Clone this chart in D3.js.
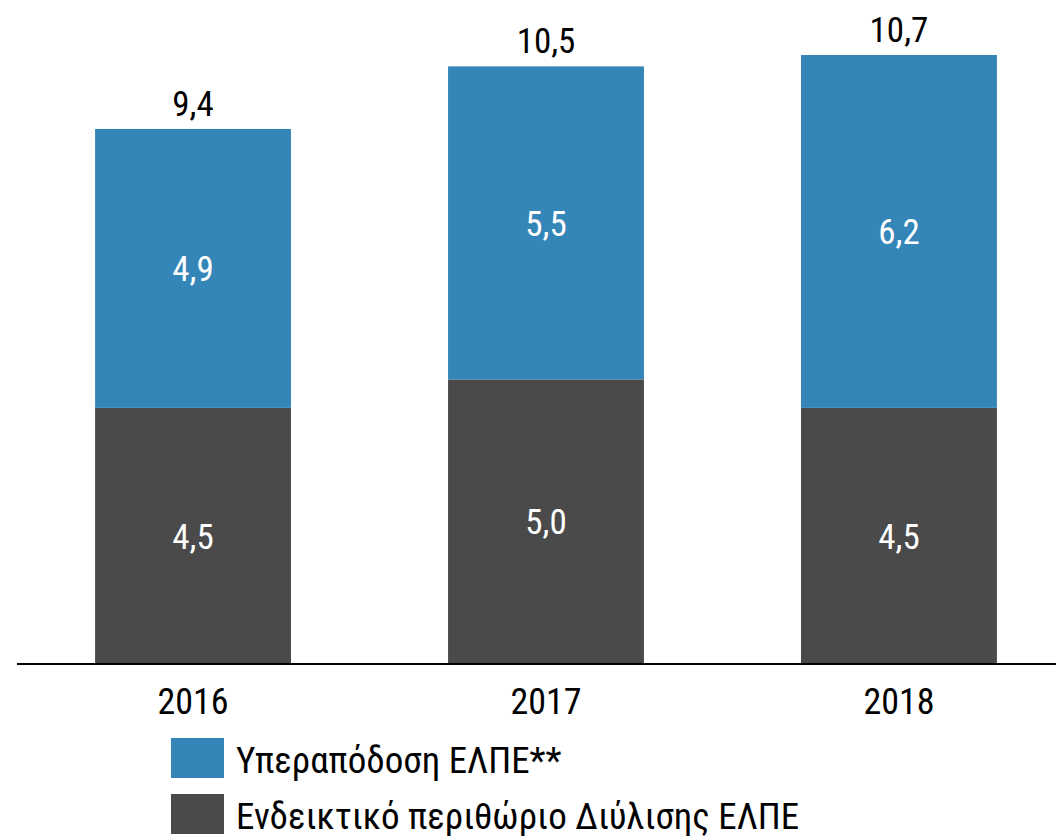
<!DOCTYPE html>
<html><head><meta charset="utf-8">
<script src="https://cdn.jsdelivr.net/npm/d3@7"></script>
<style>body{margin:0;background:#fff}svg{display:block}text{font-family:"Roboto Condensed","Liberation Sans Narrow",Roboto,sans-serif}</style>
</head><body><div id="c"></div>
<script>
const years = ["2016", "2017", "2018"];
const refining = [4.5, 5.0, 4.5];
const outperformance = [4.9, 5.5, 6.2];
const totals = [9.4, 10.5, 10.7];
const totalLabels = ["9,4", "10,5", "10,7"];
const legendLabels = ["Υπεραπόδοση ΕΛΠΕ**", "Ενδεικτικό περιθώριο Διύλισης ΕΛΠΕ"];
const colors = ["#3586b8", "#4a4a4a"];

const W = 1056, H = 836;
const svg = d3.select("#c").append("svg").attr("width", W).attr("height", H);
const x = d3.scaleBand().domain(years).range([-62, 1154]).padding(0.445);
const y = d3.scaleLinear().domain([0, 10.7]).range([664, 55]);
const fmt = v => d3.format(".1f")(v).replace(".", ",");

const rows = years.map((yr, i) => ({yr, a: refining[i], b: outperformance[i], t: totals[i], tl: totalLabels[i]}));

const g = svg.append("g");
g.selectAll(".bot").data(rows).join("rect")
  .attr("x", d => x(d.yr)).attr("width", x.bandwidth())
  .attr("y", d => y(d.a)).attr("height", d => y(0) - y(d.a)).attr("fill", colors[1]);
g.selectAll(".top").data(rows).join("rect")
  .attr("x", d => x(d.yr)).attr("width", x.bandwidth())
  .attr("y", d => y(d.a + d.b)).attr("height", d => y(d.a) - y(d.a + d.b)).attr("fill", colors[0]);

const fs = 35;
g.selectAll(".lb").data(rows).join("text")
  .attr("x", d => x(d.yr) + x.bandwidth()/2).attr("y", d => (y(0) + y(d.a))/2 + fs*0.36)
  .attr("text-anchor", "middle").attr("fill", "#fff").attr("font-size", fs).text(d => fmt(d.a));
g.selectAll(".lt").data(rows).join("text")
  .attr("x", d => x(d.yr) + x.bandwidth()/2).attr("y", d => (y(d.a) + y(d.a + d.b))/2 + fs*0.36)
  .attr("text-anchor", "middle").attr("fill", "#fff").attr("font-size", fs).text(d => fmt(d.b));
g.selectAll(".tt").data(rows).join("text")
  .attr("x", d => x(d.yr) + x.bandwidth()/2).attr("y", d => y(d.t) - 13)
  .attr("text-anchor", "middle").attr("fill", "#000").attr("font-size", fs).text(d => d.tl);

const ax = svg.append("g").attr("transform", "translate(0,664)")
  .call(d3.axisBottom(x).tickSize(0).tickPadding(0));
ax.select(".domain").remove();
ax.append("line").attr("x1", 17).attr("x2", 1056).attr("stroke", "#000").attr("stroke-width", 2);
ax.selectAll(".tick text").attr("font-size", 36).attr("fill", "#000").attr("dy", null).attr("y", 50)
  .style("font-family", '"Roboto Condensed","Liberation Sans Narrow",Roboto,sans-serif');

const lg = svg.append("g");
legendLabels.forEach((t, i) => {
  lg.append("rect").attr("x", 171).attr("y", 738 + i*56).attr("width", 53).attr("height", 40).attr("fill", colors[i]);
  lg.append("text").attr("x", 236).attr("y", 773 + i*56).attr("font-size", 37).attr("fill", "#000").text(t);
});
</script></body></html>
